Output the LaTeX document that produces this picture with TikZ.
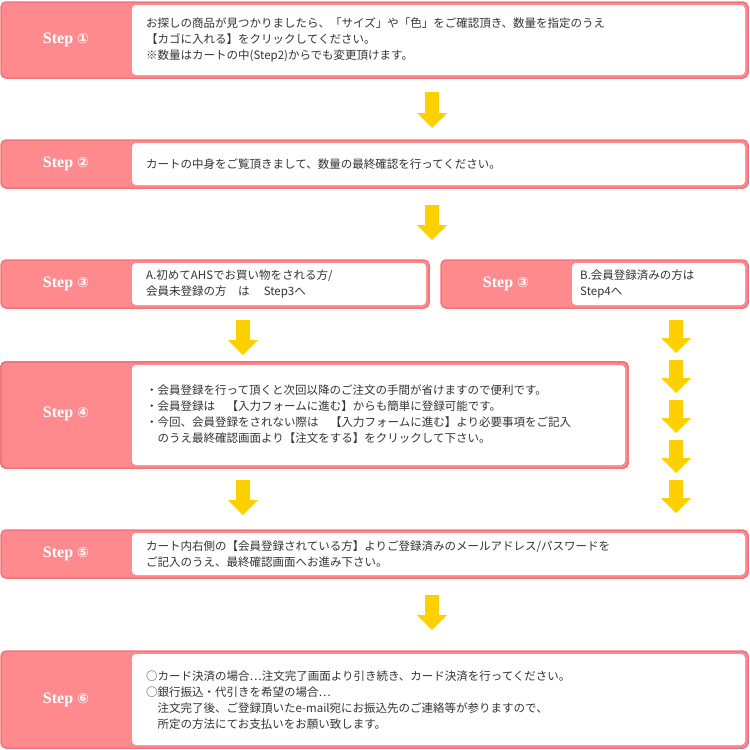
\documentclass[tikz,border=0pt]{standalone}
\usepackage{fontspec}
\newfontfamily\jpfont{Noto Sans CJK JP}
\newfontfamily\labelfont{Liberation Serif}
\newfontfamily\circfont{DejaVu Sans}
\usetikzlibrary{positioning}
\definecolor{steppink}{HTML}{FF8A8E}
\definecolor{stepedge}{HTML}{F4747B}
\definecolor{arrowyellow}{HTML}{FFD000}
\tikzset{
  stepframe/.style={fill=steppink, draw=stepedge, line width=1.5pt, rounded corners=5pt},
  textpanel/.style={fill=white, rounded corners=4pt},
  steplabel/.style={text=white, font=\labelfont\bfseries\fontsize{16}{16}\selectfont, inner sep=0pt},
  bodytext/.style={anchor=west, align=left, inner sep=0pt, font=\jpfont\fontsize{11.5}{16}\selectfont, text=black!80}
}
% block arrow pointing down: x, top y, bottom y
\newcommand{\flowarrow}[3]{%
  \fill[arrowyellow] (#1-7,#2) -- (#1+7,#2) -- (#1+7,#3-15) -- (#1+15,#3-15)
    -- (#1,#3) -- (#1-15,#3-15) -- (#1-7,#3-15) -- cycle;}
\newcommand{\stepname}[1]{Step {\circfont\fontsize{14}{14}\selectfont #1}}
\begin{document}
\begin{tikzpicture}[x=1pt,y=-1pt]
    \useasboundingbox (0,0) rectangle (750,750);
    % step 1
    \draw[stepframe] (1,2) rectangle (748,78);
    \fill[textpanel] (132,5) rectangle (745,75);
    \node[steplabel] (lab1) at (66,40) {\stepname{①}};
    \node[bodytext] (txt1) at (146,40) {お探しの商品が見つかりましたら、「サイズ」や「色」をご確認頂き、数量を指定のうえ\\【カゴに入れる】をクリックしてください。\\※数量はカートの中(Step2)からでも変更頂けます。};
    \flowarrow{432}{92}{128}
    % step 2
    \draw[stepframe] (1,140) rectangle (748,188);
    \fill[textpanel] (132,143) rectangle (745,185);
    \node[steplabel] (lab2) at (66,164) {\stepname{②}};
    \node[bodytext] (txt2) at (146,164) {カートの中身をご覧頂きまして、数量の最終確認を行ってください。};
    \flowarrow{432}{205}{240}
    % step 3 (a / b)
    \draw[stepframe] (1,260) rectangle (429,308);
    \fill[textpanel] (132,263) rectangle (426,305);
    \node[steplabel] (lab3a) at (66,284) {\stepname{③}};
    \node[bodytext] (txt3a) at (146,284) {A.初めてAHSでお買い物をされる方/\\会員未登録の方　は　 Step3へ};
    \draw[stepframe] (441,260) rectangle (748,308);
    \fill[textpanel] (572,263) rectangle (745,305);
    \node[steplabel] (lab3b) at (506,284) {\stepname{③}};
    \node[bodytext] (txt3b) at (580,284) {B.会員登録済みの方は\\Step4へ};
    \flowarrow{243}{320}{355}
    \foreach \ytop in {320,360,400,440,480}
      \flowarrow{676}{\ytop}{\ytop+33}
    % step 4
    \draw[stepframe] (1,362) rectangle (628,468);
    \fill[textpanel] (132,365) rectangle (625,465);
    \node[steplabel] (lab4) at (66,414) {\stepname{④}};
    \node[bodytext] (txt4) at (146,414) {・会員登録を行って頂くと次回以降のご注文の手間が省けますので便利です。\\・会員登録は　【入力フォームに進む】からも簡単に登録可能です。\\・今回、会員登録をされない際は　【入力フォームに進む】より必要事項をご記入\\\hspace*{1em}のうえ最終確認画面より【注文をする】をクリックして下さい。};
    \flowarrow{243}{480}{515}
    % step 5
    \draw[stepframe] (1,530) rectangle (748,578);
    \fill[textpanel] (132,533) rectangle (745,575);
    \node[steplabel] (lab5) at (66,554) {\stepname{⑤}};
    \node[bodytext] (txt5) at (146,554) {カート内右側の【会員登録されている方】よりご登録済みのメールアドレス/パスワードを\\ご記入のうえ、最終確認画面へお進み下さい。};
    \flowarrow{432}{595}{630}
    % step 6
    \draw[stepframe] (1,651) rectangle (748,748);
    \fill[textpanel] (132,654) rectangle (745,745);
    \node[steplabel] (lab6) at (66,700) {\stepname{⑥}};
    \node[bodytext] (txt6) at (146,700) {○カード決済の場合…注文完了画面より引き続き、カード決済を行ってください。\\○銀行振込・代引きを希望の場合…\\\hspace*{1em}注文完了後、ご登録頂いたe-mail宛にお振込先のご連絡等が参りますので、\\\hspace*{1em}所定の方法にてお支払いをお願い致します。};
\end{tikzpicture}
\end{document}
